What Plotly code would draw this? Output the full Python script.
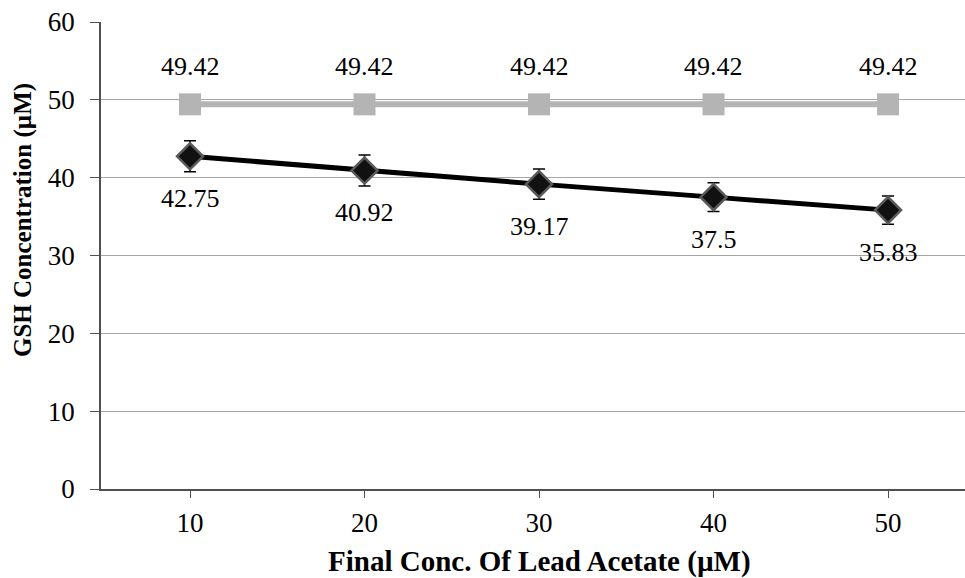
import plotly.graph_objects as go

# GSH concentration against final lead acetate concentration
lead_acetate = [10, 20, 30, 40, 50]
gsh_control = [49.42, 49.42, 49.42, 49.42, 49.42]
gsh_treated = [42.75, 40.92, 39.17, 37.5, 35.83]
gsh_treated_err = [2.0, 2.0, 1.95, 1.85, 1.8]
y_ticks = [0, 10, 20, 30, 40, 50, 60]

SERIF = "Liberation Serif, Times New Roman, serif"

fig = go.Figure()

fig.add_trace(go.Scatter(
    x=lead_acetate, y=gsh_control, mode="lines+markers",
    line=dict(color="#b4b4b4", width=6),
    marker=dict(symbol="square", size=22, color="#b4b4b4"),
    showlegend=False, hoverinfo="x+y",
))

fig.add_trace(go.Scatter(
    x=lead_acetate, y=gsh_treated, mode="lines+markers",
    line=dict(color="#000000", width=5),
    marker=dict(symbol="diamond", size=20, color="#111111",
                line=dict(color="#5a5a5a", width=2.5)),
    error_y=dict(type="data", array=gsh_treated_err, visible=True,
                 color="#000000", thickness=1.5, width=6),
    showlegend=False, hoverinfo="x+y",
))

annotations = []
for xv, yv in zip(lead_acetate, gsh_control):
    annotations.append(dict(x=xv, y=yv, xref="x", yref="y", text=f"{yv:g}",
                            showarrow=False, yshift=38,
                            font=dict(family=SERIF, size=26, color="#000000")))
for xv, yv in zip(lead_acetate, gsh_treated):
    annotations.append(dict(x=xv, y=yv, xref="x", yref="y", text=f"{yv:g}",
                            showarrow=False, yshift=-42,
                            font=dict(family=SERIF, size=26, color="#000000")))

# axis titles
annotations.append(dict(x=-0.0903, y=0.576, xref="paper", yref="paper",
                        text="<b>GSH Concentration (µM)</b>", textangle=-90,
                        showarrow=False, xanchor="center", yanchor="middle",
                        font=dict(family=SERIF, size=25, color="#000000")))
annotations.append(dict(x=30, y=-0.1563, xref="x", yref="paper",
                        text="<b>Final Conc. Of Lead Acetate (µM)</b>",
                        showarrow=False, xanchor="center", yanchor="middle",
                        font=dict(family=SERIF, size=29, color="#000000")))

fig.update_layout(
    width=965, height=578,
    margin=dict(l=101, r=0, t=22, b=89),
    paper_bgcolor="#ffffff", plot_bgcolor="#ffffff",
    annotations=annotations,
    xaxis=dict(
        range=[4.9, 54.41], tickvals=lead_acetate,
        ticktext=[str(v) for v in lead_acetate],
        showgrid=False, zeroline=False,
        showline=True, linecolor="#505050", linewidth=1.5,
        ticks="outside", ticklen=7, tickcolor="#505050", tickwidth=1.2,
        ticklabelstandoff=2,
        tickfont=dict(family=SERIF, size=27, color="#000000"),
    ),
    yaxis=dict(
        range=[0, 60], tickvals=y_ticks,
        showgrid=True, gridcolor="#a6a6a6", gridwidth=1,
        zeroline=False,
        showline=True, linecolor="#505050", linewidth=1.5,
        ticks="outside", ticklen=9, tickcolor="#505050", tickwidth=1.2,
        ticklabelstandoff=10,
        tickfont=dict(family=SERIF, size=27, color="#000000"),
    ),
)

fig.write_html("out.html")
